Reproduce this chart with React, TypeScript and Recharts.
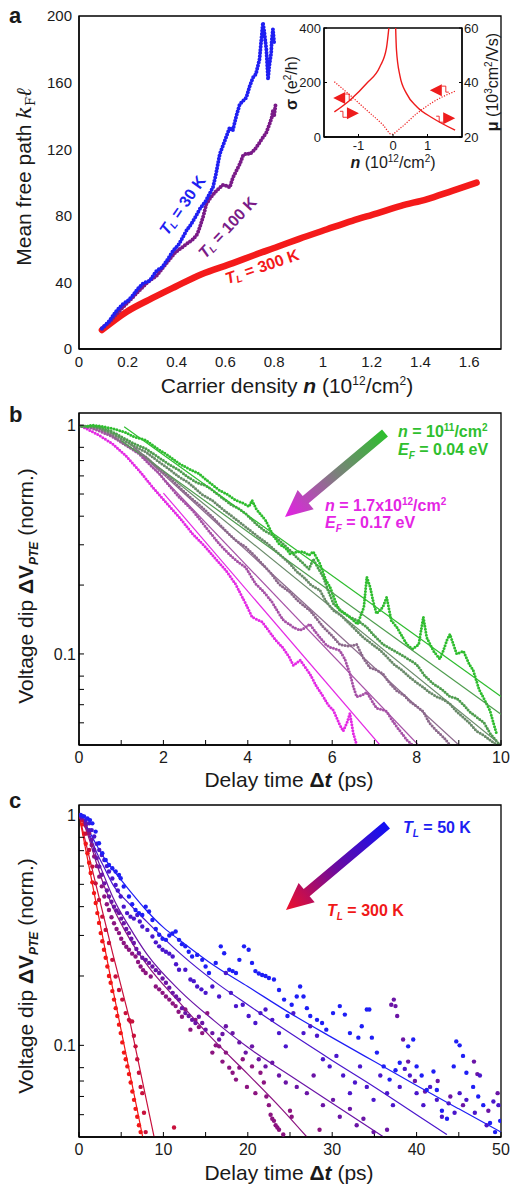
import React from 'react';
import { ComposedChart, Line, Scatter, XAxis, YAxis, ReferenceArea, ReferenceDot } from 'recharts';

type P = [number, number];
const FONT = '"Liberation Sans", Arial, Helvetica, sans-serif';
const INK = '#1a1a1a';
const toXY = (a: P[]) => a.map(([x, y]) => ({ x, y }));

// ---------------- Panel a ----------------
const aTicksX = [0, 0.2, 0.4, 0.6, 0.8, 1, 1.2, 1.4, 1.6];
const aTicksY = [0, 40, 80, 120, 160, 200];
const aDomainX: [number, number] = [0, 1.73];
const aDomainY: [number, number] = [0, 200];
const A_BLUE = '#1f1ff2';
const A_PURPLE = '#7a1b88';
const A_RED = '#f41a1a';

const a30K: P[] = [[0.094,12.5],[0.12,16],[0.154,23],[0.18,27],[0.2,29],[0.22,32],[0.24,36],[0.263,39.5],[0.29,41],[0.318,47],[0.34,49],[0.36,53],[0.386,59],[0.41,63],[0.44,71],[0.46,75],[0.48,80],[0.495,84],[0.52,89],[0.549,97],[0.56,104],[0.577,117],[0.59,122],[0.618,133],[0.63,131],[0.645,140],[0.659,147],[0.686,151],[0.7,158],[0.713,163],[0.725,165],[0.74,174],[0.745,182],[0.754,196],[0.76,190],[0.768,180],[0.775,162],[0.78,170],[0.788,178],[0.79,185],[0.795,192],[0.8,184]];
const a100K: P[] = [[0.094,12],[0.13,17],[0.16,22],[0.2,28],[0.24,34],[0.28,40],[0.318,44],[0.35,50],[0.372,54],[0.395,58],[0.413,60],[0.44,63],[0.468,66],[0.485,69],[0.495,73],[0.51,80],[0.522,87],[0.54,91],[0.563,95],[0.59,98.5],[0.605,98],[0.618,97],[0.631,103],[0.645,107],[0.659,111],[0.672,116],[0.686,117.5],[0.7,117],[0.715,119],[0.727,121],[0.74,124],[0.754,127],[0.768,130],[0.781,135],[0.79,139],[0.795,143],[0.8,140],[0.806,147]];
const a300K: P[] = [[0.094,11.4],[0.196,22.4],[0.3,30.5],[0.395,37.4],[0.5,44.8],[0.631,51.6],[0.72,56.5],[0.814,61.4],[0.9,66],[1.017,71.9],[1.12,77],[1.222,81.5],[1.32,86],[1.425,89.9],[1.53,95],[1.63,99.9]];

// inset
const insTicksX = [-1, 0, 1];
const insTicksL = [0, 200, 400];
const insTicksR = [20, 40, 60];
const insSigma: P[] = [[-1.7,203],[-1.25,154],[-0.76,98],[-0.28,43],[-0.04,10],[0.2,31],[0.69,86],[1.17,129],[1.8,168]];
const insMuNeg: P[] = [[-1.7,29.2],[-1.25,33.5],[-0.76,39.7],[-0.38,45.8],[-0.19,52.6],[-0.12,60]];
const insMuPos: P[] = [[0.077,60],[0.1,52],[0.2,42.5],[0.39,36],[0.69,31.1],[1.17,26.8],[1.8,22.5]];

// ---------------- Panel b ----------------
const bTicksX = [0, 1, 2, 3, 4, 5, 6, 7, 8, 9, 10];
const logTicks = [0.05, 0.06, 0.07, 0.08, 0.09, 0.1, 0.2, 0.3, 0.4, 0.5, 0.6, 0.7, 0.8, 0.9, 1];
const bColors = ['#2fbd2f', '#4f9d4f', '#6b8b6b', '#8c6a8c', '#a652a6', '#e42ae4'];
const b1: P[] = [[0.2,0.99],[0.32,1.0],[0.5,0.99],[0.79,0.967],[1.1,0.93],[1.3,0.89],[1.58,0.86],[1.9,0.78],[2.1,0.74],[2.37,0.68],[2.6,0.645],[2.84,0.614],[3.1,0.56],[3.32,0.52],[3.5,0.5],[3.71,0.47],[3.9,0.455],[4.03,0.44],[4.1,0.47],[4.2,0.43],[4.42,0.384],[4.6,0.33],[4.74,0.303],[4.9,0.29],[5.0,0.274],[5.2,0.28],[5.32,0.279],[5.45,0.27],[5.55,0.28],[5.71,0.248],[5.85,0.21],[5.95,0.196],[6.1,0.165],[6.18,0.155],[6.3,0.15],[6.42,0.145],[6.6,0.135],[6.75,0.16],[6.82,0.217],[6.9,0.196],[6.97,0.17],[7.05,0.15],[7.2,0.16],[7.29,0.177],[7.4,0.14],[7.53,0.131],[7.65,0.12],[7.77,0.11],[7.9,0.105],[8.05,0.11],[8.16,0.145],[8.24,0.118],[8.4,0.103],[8.55,0.095],[8.63,0.103],[8.72,0.115],[8.79,0.122],[8.95,0.1],[9.11,0.103],[9.25,0.09],[9.34,0.085],[9.48,0.07],[9.58,0.0646],[9.74,0.0565],[9.82,0.05],[9.9,0.0445]];
const b2: P[] = [[0,0.99],[0.3,0.99],[0.5,0.98],[0.79,0.935],[1.1,0.87],[1.3,0.83],[1.58,0.79],[1.9,0.72],[2.1,0.68],[2.37,0.635],[2.6,0.59],[2.8,0.56],[3.0,0.545],[3.16,0.52],[3.4,0.48],[3.6,0.45],[3.8,0.43],[3.95,0.41],[4.2,0.37],[4.4,0.345],[4.6,0.33],[4.74,0.314],[4.9,0.295],[5.0,0.284],[5.15,0.265],[5.32,0.248],[5.45,0.235],[5.55,0.26],[5.65,0.24],[5.79,0.217],[5.9,0.19],[6.03,0.166],[6.2,0.155],[6.42,0.145],[6.6,0.14],[6.82,0.131],[7.0,0.12],[7.21,0.11],[7.4,0.105],[7.6,0.1],[7.8,0.095],[8.0,0.09],[8.2,0.08],[8.4,0.074],[8.6,0.07],[8.79,0.065],[8.95,0.064],[9.11,0.06],[9.25,0.056],[9.42,0.053],[9.6,0.05],[9.74,0.045],[9.97,0.04]];
const b3: P[] = [[0,0.99],[0.3,0.99],[0.5,0.97],[0.79,0.92],[1.1,0.85],[1.3,0.81],[1.58,0.764],[1.9,0.69],[2.1,0.65],[2.37,0.594],[2.6,0.56],[2.9,0.5],[3.16,0.469],[3.4,0.43],[3.7,0.39],[3.95,0.359],[4.2,0.33],[4.5,0.3],[4.74,0.274],[5.0,0.248],[5.15,0.23],[5.32,0.217],[5.5,0.2],[5.71,0.19],[5.85,0.17],[6.03,0.155],[6.2,0.148],[6.42,0.135],[6.6,0.125],[6.74,0.118],[6.9,0.112],[7.13,0.104],[7.3,0.097],[7.45,0.0905],[7.65,0.085],[7.84,0.079],[8.0,0.075],[8.16,0.0715],[8.3,0.068],[8.48,0.065],[8.65,0.063],[8.79,0.0605],[8.95,0.056],[9.11,0.0528],[9.25,0.05],[9.42,0.046],[9.6,0.044],[9.74,0.042],[9.9,0.04]];
const b4: P[] = [[0,0.99],[0.3,0.98],[0.5,0.96],[0.79,0.9],[1.1,0.82],[1.3,0.78],[1.58,0.727],[1.9,0.64],[2.1,0.6],[2.37,0.537],[2.6,0.49],[2.9,0.44],[3.16,0.397],[3.35,0.365],[3.55,0.335],[3.75,0.31],[3.95,0.293],[4.15,0.27],[4.34,0.248],[4.55,0.225],[4.74,0.202],[4.9,0.192],[5.0,0.186],[5.2,0.17],[5.47,0.155],[5.6,0.145],[5.79,0.131],[6.0,0.12],[6.18,0.11],[6.4,0.108],[6.58,0.11],[6.75,0.095],[6.9,0.087],[7.05,0.085],[7.2,0.082],[7.35,0.075],[7.53,0.069],[7.7,0.066],[7.84,0.062],[8.0,0.059],[8.16,0.056],[8.3,0.05],[8.48,0.046],[8.65,0.043],[8.79,0.04]];
const b5: P[] = [[0,0.99],[0.3,0.97],[0.5,0.94],[0.79,0.89],[1.1,0.82],[1.42,0.75],[1.65,0.68],[1.9,0.614],[2.15,0.54],[2.37,0.485],[2.55,0.45],[2.69,0.424],[2.85,0.39],[3.0,0.359],[3.16,0.33],[3.32,0.303],[3.5,0.28],[3.63,0.265],[3.8,0.25],[3.95,0.239],[4.1,0.215],[4.19,0.202],[4.34,0.19],[4.45,0.18],[4.58,0.168],[4.74,0.15],[4.85,0.14],[4.98,0.135],[5.1,0.13],[5.24,0.127],[5.35,0.13],[5.47,0.135],[5.6,0.125],[5.71,0.118],[5.85,0.11],[5.95,0.107],[6.18,0.1035],[6.3,0.095],[6.42,0.082],[6.5,0.072],[6.58,0.065],[6.7,0.066],[6.82,0.068],[6.95,0.062],[7.05,0.058],[7.2,0.057],[7.29,0.056],[7.4,0.052],[7.53,0.048],[7.65,0.045],[7.77,0.042],[7.9,0.04]];
const b6: P[] = [[0,1.0],[0.2,0.96],[0.47,0.904],[0.79,0.83],[1.1,0.739],[1.42,0.635],[1.74,0.537],[2.05,0.462],[2.37,0.397],[2.69,0.335],[3.0,0.293],[3.24,0.26],[3.48,0.232],[3.71,0.202],[3.85,0.18],[3.95,0.166],[4.1,0.145],[4.2,0.142],[4.34,0.138],[4.5,0.126],[4.66,0.115],[4.82,0.107],[4.98,0.097],[5.08,0.089],[5.24,0.094],[5.35,0.088],[5.47,0.082],[5.63,0.072],[5.79,0.065],[5.9,0.06],[6.03,0.0566],[6.18,0.049],[6.26,0.046],[6.35,0.05],[6.42,0.055],[6.5,0.045],[6.58,0.04]];
const bSeries = [b1, b2, b3, b4, b5, b6];
const bFit1: P[] = [[1.07,0.983],[10,0.0651]];
const bFit2: P[] = [[1.0,0.857],[10,0.0545]];
const bFit3: P[] = [[1.2,0.83],[10,0.04]];
const bFit4: P[] = [[1.3,0.8],[9.0,0.04]];
const bFit5: P[] = [[1.5,0.73],[8.04,0.04]];
const bFit6: P[] = [[2.0,0.505],[7.13,0.04]];
const bFits = [bFit1, bFit2, bFit3, bFit4, bFit5, bFit6];

// ---------------- Panel c ----------------
const cTicksX = [0, 5, 10, 15, 20, 25, 30, 35, 40, 45, 50];
const cColors = ['#1e1ef5', '#4a16cc', '#6a14a6', '#8c1480', '#c8103c', '#f21616'];
const c1: P[] = [[0.2,1.0],[0.6,0.985],[1.0,0.967],[1.3,0.95],[1.58,0.92],[1.97,0.847],[2.37,0.754],[2.76,0.682],[3.16,0.638],[3.55,0.607],[3.95,0.587],[4.34,0.568],[4.74,0.549],[4.94,0.531],[5.3,0.489],[5.92,0.443],[6.3,0.41],[6.7,0.387],[7.1,0.375],[7.5,0.368],[7.9,0.4],[8.3,0.381],[8.7,0.35],[9.1,0.32],[9.5,0.302],[9.9,0.29],[10.3,0.287],[10.7,0.3],[11.06,0.306],[11.45,0.312],[11.85,0.287],[12.2,0.275],[12.6,0.269],[13.0,0.255],[13.4,0.243],[14.0,0.247],[14.6,0.235],[15.0,0.22],[15.4,0.206],[16.2,0.228],[16.8,0.269],[17.2,0.251],[17.8,0.213],[18.2,0.21],[18.6,0.206],[19.0,0.235],[19.55,0.269],[20.1,0.26],[20.5,0.228],[20.9,0.21],[21.3,0.205],[21.7,0.202],[22.1,0.2],[22.5,0.196],[23.1,0.193],[23.7,0.174],[24.3,0.158],[24.7,0.134],[25.2,0.15],[25.8,0.163],[26.2,0.18],[26.6,0.163],[27.0,0.145],[27.4,0.134],[28.2,0.129],[28.8,0.125],[29.3,0.117],[30.1,0.138],[30.9,0.148],[31.5,0.136],[32.1,0.113],[33.1,0.108],[33.5,0.121],[34.1,0.143],[34.4,0.143],[34.7,0.108],[35.3,0.093],[36.1,0.081],[36.8,0.071],[37.5,0.078],[38.0,0.084],[39.0,0.099],[39.6,0.106],[40.0,0.081],[40.6,0.074],[41.2,0.064],[42.0,0.077],[42.4,0.064],[43.0,0.052],[43.6,0.048],[44.4,0.081],[44.7,0.104],[45.1,0.1],[45.5,0.09],[45.9,0.076],[46.7,0.066],[47.3,0.06],[47.9,0.055],[48.7,0.046],[49.3,0.042],[49.9,0.047]];
const c2: P[] = [[0.3,0.99],[0.8,0.95],[1.2,0.92],[1.5,0.86],[1.8,0.806],[2.1,0.75],[2.4,0.705],[2.7,0.67],[3.0,0.638],[3.3,0.6],[3.55,0.568],[3.95,0.53],[4.34,0.497],[4.6,0.47],[4.94,0.443],[5.3,0.4],[5.7,0.375],[6.1,0.362],[6.5,0.355],[6.9,0.368],[7.2,0.345],[7.5,0.328],[8.1,0.317],[8.7,0.297],[9.1,0.28],[9.5,0.269],[9.9,0.26],[10.3,0.255],[10.7,0.25],[11.1,0.243],[11.5,0.225],[11.85,0.213],[12.6,0.213],[13.2,0.193],[13.6,0.19],[14.0,0.18],[14.5,0.175],[15.0,0.169],[15.8,0.18],[16.6,0.163],[17.4,0.206],[18.0,0.169],[18.6,0.148],[19.4,0.15],[20.1,0.134],[20.9,0.125],[21.5,0.138],[22.1,0.143],[22.9,0.129],[23.7,0.113],[24.5,0.099],[25.4,0.138],[26.6,0.113],[27.4,0.121],[28.2,0.11],[28.9,0.087],[29.7,0.081],[30.5,0.09],[31.3,0.074],[32.1,0.062],[32.7,0.069],[33.3,0.081],[34.1,0.066],[34.9,0.058],[35.7,0.074],[36.5,0.062],[37.2,0.055],[38.0,0.066],[38.6,0.079],[39.2,0.074],[40.0,0.062],[40.8,0.055],[41.6,0.066],[42.4,0.058],[43.0,0.049],[43.8,0.056],[44.5,0.051],[45.1,0.062],[45.9,0.058],[46.9,0.051],[47.5,0.074],[48.3,0.045],[49.1,0.057],[49.7,0.055]];
const c3: P[] = [[0.3,0.98],[0.8,0.92],[1.2,0.86],[1.5,0.78],[1.8,0.705],[2.1,0.65],[2.4,0.597],[2.7,0.55],[3.0,0.505],[3.3,0.47],[3.55,0.443],[3.85,0.42],[4.15,0.4],[4.45,0.385],[4.74,0.375],[5.0,0.355],[5.3,0.339],[5.6,0.32],[5.92,0.307],[6.2,0.29],[6.5,0.278],[6.8,0.262],[7.1,0.251],[7.5,0.24],[7.9,0.235],[8.3,0.228],[8.7,0.22],[9.1,0.212],[9.5,0.206],[9.9,0.195],[10.3,0.187],[10.7,0.178],[11.1,0.169],[11.5,0.163],[11.85,0.158],[12.2,0.145],[12.6,0.138],[13.0,0.134],[13.4,0.129],[13.8,0.125],[14.2,0.133],[14.6,0.125],[15.0,0.117],[15.8,0.113],[16.6,0.106],[17.0,0.112],[17.4,0.121],[18.2,0.113],[19.0,0.103],[19.75,0.093],[20.5,0.099],[21.3,0.087],[22.1,0.081],[22.9,0.084],[23.7,0.074],[24.5,0.069],[25.8,0.066],[27.0,0.062],[27.8,0.074],[28.9,0.055],[30.1,0.058],[30.9,0.049],[32.1,0.053],[32.9,0.045],[33.7,0.048],[34.9,0.042],[36.5,0.043],[37.0,0.15],[37.3,0.158],[37.5,0.148],[37.7,0.134],[38.4,0.106],[39.0,0.085],[39.8,0.07],[41.0,0.063],[42.5,0.07],[44.0,0.06],[45.5,0.055],[46.8,0.085],[47.2,0.075],[48.5,0.052],[49.6,0.062]];
const c4: P[] = [[0.3,0.97],[0.8,0.9],[1.2,0.833],[1.5,0.74],[1.8,0.66],[2.1,0.6],[2.4,0.54],[2.7,0.49],[3.0,0.443],[3.3,0.41],[3.55,0.387],[3.85,0.36],[4.15,0.339],[4.45,0.32],[4.74,0.307],[5.0,0.29],[5.3,0.278],[5.6,0.268],[5.92,0.26],[6.3,0.25],[6.7,0.243],[7.0,0.23],[7.3,0.22],[7.6,0.212],[7.9,0.206],[8.5,0.199],[9.1,0.18],[9.5,0.175],[9.9,0.169],[10.3,0.163],[10.7,0.158],[11.1,0.152],[11.45,0.148],[11.8,0.14],[12.2,0.133],[12.6,0.143],[13.2,0.117],[13.8,0.129],[14.2,0.12],[14.6,0.113],[15.2,0.138],[15.8,0.093],[16.2,0.1],[16.6,0.099],[17.0,0.085],[17.4,0.093],[17.8,0.08],[18.2,0.076],[18.6,0.071],[19.0,0.08],[19.4,0.087],[19.9,0.066],[20.5,0.081],[20.9,0.062],[21.5,0.076],[21.9,0.069],[22.2,0.06],[22.5,0.055],[22.7,0.05],[22.9,0.048],[23.1,0.047],[23.3,0.045],[23.5,0.044],[23.7,0.043],[24.2,0.041],[25.0,0.052],[25.2,0.049],[28.5,0.043]];
const c5: P[] = [[0.4,0.95],[0.8,0.83],[1.2,0.705],[1.58,0.597],[1.97,0.505],[2.37,0.428],[2.76,0.362],[3.16,0.317],[3.55,0.278],[3.95,0.235],[4.34,0.199],[4.74,0.174],[5.13,0.158],[5.53,0.138],[5.92,0.129],[6.1,0.127],[6.3,0.127],[6.5,0.11],[6.7,0.099],[6.9,0.087],[7.1,0.076],[7.3,0.066],[7.5,0.062],[7.7,0.051],[7.9,0.042],[11.26,0.044]];
const c6: P[] = [[0,1.0],[0.2,0.98],[0.4,0.91],[0.6,0.83],[0.8,0.75],[1.0,0.682],[1.2,0.62],[1.38,0.56],[1.58,0.51],[1.78,0.458],[1.98,0.415],[2.17,0.375],[2.37,0.34],[2.57,0.307],[2.76,0.283],[2.96,0.26],[3.16,0.24],[3.36,0.22],[3.55,0.2],[3.75,0.187],[3.95,0.172],[4.15,0.158],[4.35,0.145],[4.54,0.134],[4.74,0.123],[4.94,0.113],[5.13,0.103],[5.33,0.093],[5.53,0.087],[5.73,0.081],[5.92,0.075],[6.12,0.069],[6.32,0.063],[6.52,0.058],[6.7,0.053],[6.9,0.049],[7.1,0.045],[7.3,0.042]];
const cSeries = [c1, c2, c3, c4, c5, c6];
const cFit1: P[] = [[0.5,0.95],[1,0.88],[2,0.75],[3,0.65],[4,0.58],[6,0.47],[8,0.385],[10,0.325],[12,0.285],[16,0.222],[20,0.18],[25,0.138],[30,0.108],[35,0.085],[40,0.067],[45,0.053],[50,0.042]];
const cFit2: P[] = [[0.5,0.95],[1,0.87],[2,0.7],[3,0.59],[4,0.5],[6,0.41],[8,0.345],[12,0.25],[16,0.19],[20,0.15],[25,0.113],[30,0.086],[35,0.066],[40,0.05],[43.6,0.041]];
const cFit3: P[] = [[0.5,0.94],[1,0.85],[2,0.67],[3,0.54],[4,0.44],[6,0.325],[8,0.25],[12,0.172],[16,0.128],[20,0.098],[25,0.074],[30,0.056],[36.1,0.04]];
const cFit4: P[] = [[0.5,0.93],[1,0.83],[2,0.63],[3,0.49],[4,0.4],[6,0.29],[8,0.225],[12,0.152],[16,0.105],[20,0.075],[24,0.053],[27,0.04]];
const cFit5: P[] = [[0,1],[2,0.5],[4,0.25],[5.92,0.133],[8.9,0.04]];
const cFit6: P[] = [[0,1],[3.95,0.18],[7.55,0.04]];
const cFits = [cFit1, cFit2, cFit3, cFit4, cFit5, cFit6];

// ---------------- helpers ----------------
const tickStyle = (fs: number) => ({ fontSize: fs, fill: INK, fontFamily: FONT });
const axisLine = { stroke: '#000', strokeWidth: 1.3 };
const logFmt = (v: number) => (v === 1 ? '1' : v === 0.1 ? '0.1' : '');

function Arrow({ tip, tail, id, stops }: { tip: P; tail: P; id: string; stops: string[] }) {
  const [tx, ty] = tip;
  const [ex, ey] = tail;
  const dx = ex - tx, dy = ey - ty;
  const L = Math.hypot(dx, dy);
  const ux = dx / L, uy = dy / L;
  const px = -uy, py = ux;
  const hl = 27, hw = 12.5, sw = 4.6;
  const bx = tx + ux * hl, by = ty + uy * hl;
  const pts: P[] = [
    [tx, ty], [bx + px * hw, by + py * hw], [bx + px * sw, by + py * sw], [ex + px * sw, ey + py * sw],
    [ex - px * sw, ey - py * sw], [bx - px * sw, by - py * sw], [bx - px * hw, by - py * hw],
  ];
  return (
    <g>
      <defs>
        <linearGradient id={id} gradientUnits="userSpaceOnUse" x1={ex} y1={ey} x2={tx} y2={ty}>
          {stops.map((c, i) => (
            <stop key={i} offset={i / (stops.length - 1)} stopColor={c} />
          ))}
        </linearGradient>
      </defs>
      <polygon points={pts.map((p) => p.join(',')).join(' ')} fill={`url(#${id})`} />
    </g>
  );
}

const RED = '#ee1c1c';
const triShape = (dir: 'L' | 'R') => (p: any) => {
  const { cx, cy } = p;
  if (dir === 'L') {
    return (
      <g>
        <polygon points={`${cx - 7},${cy} ${cx + 5},${cy - 6} ${cx + 5},${cy + 6}`} fill={RED} />
        <path d={`M${cx + 5},${cy - 4} h4 v6 h3`} stroke={RED} strokeWidth={0.9} fill="none" />
      </g>
    );
  }
  return (
    <g>
      <polygon points={`${cx + 7},${cy} ${cx - 5},${cy - 6} ${cx - 5},${cy + 6}`} fill={RED} />
      <path d={`M${cx - 5},${cy + 4} h-4 v-6 h-3`} stroke={RED} strokeWidth={0.9} fill="none" />
    </g>
  );
};

const dotShape = (color: string) => (p: any) => <circle cx={p.cx} cy={p.cy} r={2.2} fill={color} />;

function VoltTitle({ cy }: { cy: number }) {
  return (
    <text x={33} y={cy} transform={`rotate(-90 33 ${cy})`} textAnchor="middle" fontSize={21} fill={INK} fontFamily={FONT}>
      Voltage dip <tspan fontWeight="bold">ΔV</tspan>
      <tspan dy={5} fontSize={12} fontWeight="bold" fontStyle="italic">PTE</tspan>
      <tspan dy={-5}> (norm.)</tspan>
    </text>
  );
}

function DelayTitle({ y }: { y: number }) {
  return (
    <text x={289} y={y} textAnchor="middle" fontSize={21} fill={INK} fontFamily={FONT}>
      Delay time <tspan fontWeight="bold">Δ</tspan><tspan fontWeight="bold" fontStyle="italic">t</tspan> (ps)
    </text>
  );
}

function TL({ x, y, rot, color, val }: { x: number; y: number; rot: number; color: string; val: string }) {
  return (
    <text x={x} y={y} transform={`rotate(${rot} ${x} ${y})`} textAnchor="middle" dominantBaseline="central" fontSize={16} fontWeight="bold" fill={color} fontFamily={FONT}>
      <tspan fontStyle="italic">T</tspan>
      <tspan dy={4} fontSize={10} fontStyle="italic">L</tspan>
      <tspan dy={-4}> = {val}</tspan>
    </text>
  );
}

export default function App() {
  return (
    <div style={{ position: 'absolute', left: 0, top: 0, width: 517, height: 1184, background: '#fff', fontFamily: FONT }}>
      {/* Panel a */}
      <div style={{ position: 'absolute', left: 0, top: 0 }}>
        <ComposedChart width={517} height={400} margin={{ top: 16, right: 16, bottom: 21, left: 39 }}>
          <XAxis type="number" dataKey="x" domain={aDomainX} ticks={aTicksX} allowDataOverflow height={30} tickSize={0} tickMargin={7} tick={tickStyle(15)} axisLine={axisLine} tickLine={false} />
          <YAxis type="number" dataKey="y" domain={aDomainY} ticks={aTicksY} allowDataOverflow width={40} tickSize={0} tickMargin={7} tick={tickStyle(15)} axisLine={axisLine} tickLine={false} />
          <ReferenceArea x1={aDomainX[0]} x2={aDomainX[1]} y1={aDomainY[0]} y2={aDomainY[1]} fill="none" stroke="#000" strokeWidth={1.3} />
          <Line data={toXY(a300K)} dataKey="y" type="monotone" stroke={A_RED} strokeWidth={6.5} strokeLinecap="round" strokeLinejoin="round" dot={false} isAnimationActive={false} />
          <Line data={toXY(a100K)} dataKey="y" stroke={A_PURPLE} strokeWidth={4} strokeDasharray="0 3.2" strokeLinecap="round" dot={false} isAnimationActive={false} />
          <Line data={toXY(a30K)} dataKey="y" stroke={A_BLUE} strokeWidth={4} strokeDasharray="0 3.2" strokeLinecap="round" dot={false} isAnimationActive={false} />
        </ComposedChart>
      </div>

      {/* Inset */}
      <div style={{ position: 'absolute', left: 280, top: 20 }}>
        <ComposedChart width={215} height={150} margin={{ top: 8, right: 8, bottom: 15, left: 14 }}>
          <XAxis type="number" dataKey="x" domain={[-2, 2]} ticks={insTicksX} allowDataOverflow height={18} tickSize={-3} tickMargin={7} tick={tickStyle(13)} axisLine={axisLine} tickLine={{ stroke: '#000' }} tickFormatter={(v: number) => (v < 0 ? '-1' : String(v))} />
          <YAxis yAxisId="L" type="number" dataKey="y" domain={[0, 400]} ticks={insTicksL} allowDataOverflow width={30} tickSize={-3} tickMargin={6} tick={tickStyle(13)} axisLine={axisLine} tickLine={{ stroke: '#000' }} />
          <YAxis yAxisId="R" orientation="right" type="number" dataKey="y" domain={[20, 60]} ticks={insTicksR} allowDataOverflow width={25} tickSize={-3} tickMargin={5} tick={tickStyle(13)} axisLine={axisLine} tickLine={{ stroke: '#000' }} />
          <ReferenceArea yAxisId="L" x1={-2} x2={2} y1={0} y2={400} fill="none" stroke="#000" strokeWidth={1.3} />
          <Line yAxisId="L" data={toXY(insSigma)} dataKey="y" type="monotone" stroke={RED} strokeWidth={1.2} strokeDasharray="1.2 1.5" dot={false} isAnimationActive={false} />
          <Line yAxisId="R" data={toXY(insMuNeg)} dataKey="y" type="monotone" stroke={RED} strokeWidth={1.4} dot={false} isAnimationActive={false} />
          <Line yAxisId="R" data={toXY(insMuPos)} dataKey="y" type="monotone" stroke={RED} strokeWidth={1.4} dot={false} isAnimationActive={false} />
          <ReferenceDot yAxisId="L" x={-1.53} y={143} r={1} shape={triShape('L')} />
          <ReferenceDot yAxisId="R" x={-1.19} y={28.7} r={1} shape={triShape('R')} />
          <ReferenceDot yAxisId="L" x={1.27} y={172} r={1} shape={triShape('L')} />
          <ReferenceDot yAxisId="R" x={1.6} y={26.9} r={1} shape={triShape('R')} />
        </ComposedChart>
      </div>

      {/* Panel b */}
      <div style={{ position: 'absolute', left: 0, top: 400 }}>
        <ComposedChart width={517} height={380} margin={{ top: 13, right: 16, bottom: 7, left: 39 }}>
          <XAxis type="number" dataKey="x" domain={[0, 10]} ticks={bTicksX} allowDataOverflow height={28} tickSize={-5} tickMargin={12} tick={tickStyle(16)} axisLine={axisLine} tickLine={{ stroke: '#000' }} tickFormatter={(v: number) => (v % 2 === 0 ? String(v) : '')} />
          <YAxis type="number" dataKey="y" scale="log" domain={[0.04, 1.13]} ticks={logTicks} allowDataOverflow width={40} tickSize={-5} tickMargin={8} tick={tickStyle(16)} axisLine={axisLine} tickLine={{ stroke: '#000' }} tickFormatter={logFmt} />
          <ReferenceArea x1={0} x2={10} y1={0.04} y2={1.13} fill="none" stroke="#000" strokeWidth={1.3} />
          {bSeries.map((s, i) => bSeries[5 - i]).map((s, k) => (
            <Line key={`bs${k}`} data={toXY(s)} dataKey="y" stroke={bColors[5 - k]} strokeWidth={3} strokeDasharray="0 3" strokeLinecap="round" dot={false} isAnimationActive={false} />
          ))}
          {bFits.map((f, i) => (
            <Line key={`bf${i}`} data={toXY(f)} dataKey="y" stroke={bColors[i]} strokeWidth={1.2} dot={false} isAnimationActive={false} />
          ))}
        </ComposedChart>
      </div>

      {/* Panel c */}
      <div style={{ position: 'absolute', left: 0, top: 790 }}>
        <ComposedChart width={517} height={394} margin={{ top: 15, right: 16, bottom: 19, left: 39 }}>
          <XAxis type="number" dataKey="x" domain={[0, 50]} ticks={cTicksX} allowDataOverflow height={28} tickSize={-5} tickMargin={12} tick={tickStyle(16)} axisLine={axisLine} tickLine={{ stroke: '#000' }} tickFormatter={(v: number) => (v % 10 === 0 ? String(v) : '')} />
          <YAxis type="number" dataKey="y" scale="log" domain={[0.04, 1.105]} ticks={logTicks} allowDataOverflow width={40} tickSize={-5} tickMargin={8} tick={tickStyle(16)} axisLine={axisLine} tickLine={{ stroke: '#000' }} tickFormatter={logFmt} />
          <ReferenceArea x1={0} x2={50} y1={0.04} y2={1.105} fill="none" stroke="#000" strokeWidth={1.3} />
          {cSeries.map((s, i) => cSeries[5 - i]).map((s, k) => (
            <Scatter key={`cs${k}`} data={toXY(s)} fill={cColors[5 - k]} shape={dotShape(cColors[5 - k])} isAnimationActive={false} />
          ))}
          {cFits.map((f, i) => (
            <Line key={`cf${i}`} data={toXY(f)} dataKey="y" type={i < 4 ? 'monotone' : 'linear'} stroke={cColors[i]} strokeWidth={1.2} dot={false} isAnimationActive={false} />
          ))}
        </ComposedChart>
      </div>

      {/* Overlay: panel letters, titles, annotations */}
      <svg width={517} height={1184} style={{ position: 'absolute', left: 0, top: 0, pointerEvents: 'none' }} fontFamily={FONT}>
        <text x={9} y={23} fontSize={22} fontWeight="bold" fill={INK}>a</text>
        <text x={9} y={422} fontSize={22} fontWeight="bold" fill={INK}>b</text>
        <text x={9} y={808} fontSize={22} fontWeight="bold" fill={INK}>c</text>

        {/* panel a titles */}
        <text x={31} y={177} transform="rotate(-90 31 177)" textAnchor="middle" fontSize={21} fill={INK}>
          Mean free path <tspan fontFamily='"DejaVu Serif", serif' fontStyle="italic">k</tspan>
          <tspan dy={4} fontSize={13} fontFamily='"DejaVu Serif", serif'>F</tspan>
          <tspan dy={-4} fontFamily='"DejaVu Serif", serif' fontStyle="italic">ℓ</tspan>
        </text>
        <text x={287} y={393} textAnchor="middle" fontSize={21} fill={INK}>
          Carrier density <tspan fontWeight="bold" fontStyle="italic">n</tspan> (10
          <tspan dy={-8} fontSize={12}>12</tspan>
          <tspan dy={8}>/cm</tspan>
          <tspan dy={-8} fontSize={12}>2</tspan>
          <tspan dy={8}>)</tspan>
        </text>
        <TL x={182} y={205} rot={-55} color={A_BLUE} val="30 K" />
        <TL x={227} y={227} rot={-47} color={A_PURPLE} val="100 K" />
        <TL x={262} y={266} rot={-19} color={A_RED} val="300 K" />

        {/* inset titles */}
        <text x={297} y={83} transform="rotate(-90 297 83)" textAnchor="middle" fontSize={16} fill={INK}>
          <tspan fontWeight="bold">σ</tspan> (e<tspan dy={-6} fontSize={10}>2</tspan><tspan dy={6}>/h)</tspan>
        </text>
        <text x={498} y={82} transform="rotate(-90 498 82)" textAnchor="middle" fontSize={16} fill={INK}>
          <tspan fontWeight="bold">μ</tspan> (10<tspan dy={-6} fontSize={10}>3</tspan><tspan dy={6}>cm</tspan><tspan dy={-6} fontSize={10}>2</tspan><tspan dy={6}>/Vs)</tspan>
        </text>
        <text x={393} y={168} textAnchor="middle" fontSize={16} fill={INK}>
          <tspan fontWeight="bold" fontStyle="italic">n</tspan> (10<tspan dy={-6} fontSize={10}>12</tspan><tspan dy={6}>/cm</tspan><tspan dy={-6} fontSize={10}>2</tspan><tspan dy={6}>)</tspan>
        </text>

        {/* panel b */}
        <VoltTitle cy={586} />
        <DelayTitle y={787} />
        <Arrow tip={[285, 517]} tail={[385, 433]} id="gradB" stops={['#2dbf2d', '#7e7e7e', '#e61ee6']} />
        <text x={398} y={437} fontSize={16} fontWeight="bold" fill="#2fbf2f">
          <tspan fontStyle="italic">n</tspan> = 10<tspan dy={-6} fontSize={10}>11</tspan><tspan dy={6}>/cm</tspan><tspan dy={-6} fontSize={10}>2</tspan>
        </text>
        <text x={398} y={455} fontSize={16} fontWeight="bold" fill="#2fbf2f">
          <tspan fontStyle="italic">E</tspan><tspan dy={4} fontSize={10} fontStyle="italic">F</tspan><tspan dy={-4}> = 0.04 eV</tspan>
        </text>
        <text x={325} y={511} fontSize={16} fontWeight="bold" fill="#e425e4">
          <tspan fontStyle="italic">n</tspan> = 1.7x10<tspan dy={-6} fontSize={10}>12</tspan><tspan dy={6}>/cm</tspan><tspan dy={-6} fontSize={10}>2</tspan>
        </text>
        <text x={325} y={528} fontSize={16} fontWeight="bold" fill="#e425e4">
          <tspan fontStyle="italic">E</tspan><tspan dy={4} fontSize={10} fontStyle="italic">F</tspan><tspan dy={-4}> = 0.17 eV</tspan>
        </text>

        {/* panel c */}
        <VoltTitle cy={976} />
        <DelayTitle y={1180} />
        <Arrow tip={[286, 910]} tail={[387, 825]} id="gradC" stops={['#1010f5', '#6a0aa0', '#f0102a']} />
        <text x={403} y={833} fontSize={16} fontWeight="bold" fill="#1e1ef2">
          <tspan fontStyle="italic">T</tspan><tspan dy={4} fontSize={10} fontStyle="italic">L</tspan><tspan dy={-4}> = 50 K</tspan>
        </text>
        <text x={327} y={916} fontSize={16} fontWeight="bold" fill="#f01818">
          <tspan fontStyle="italic">T</tspan><tspan dy={4} fontSize={10} fontStyle="italic">L</tspan><tspan dy={-4}> = 300 K</tspan>
        </text>
      </svg>
    </div>
  );
}
